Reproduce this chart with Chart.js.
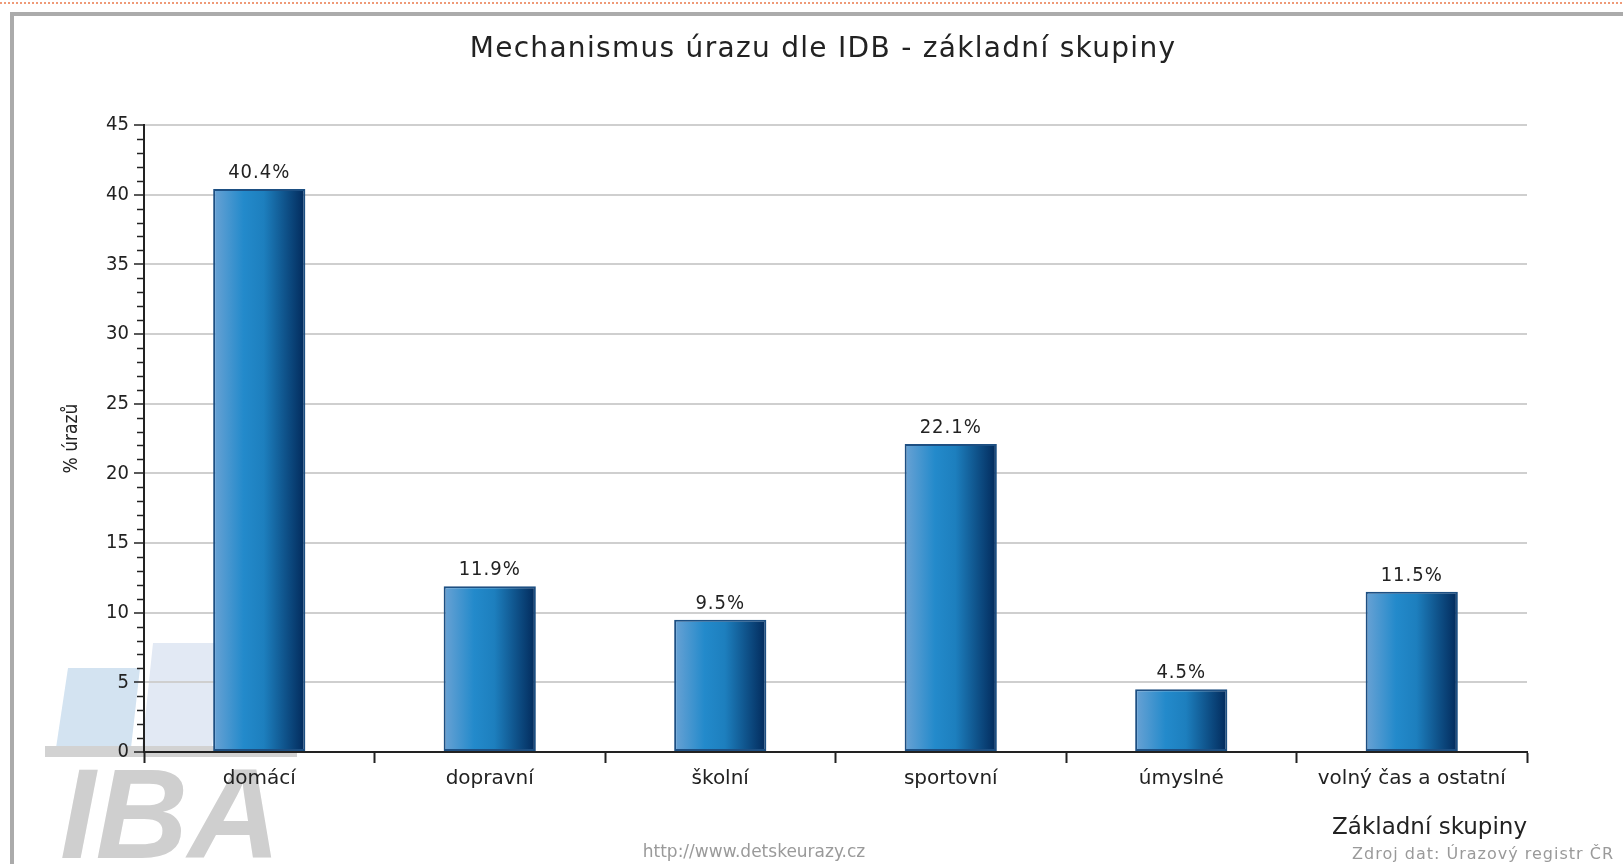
<!DOCTYPE html>
<html>
<head>
<meta charset="utf-8">
<script src="https://cdn.jsdelivr.net/npm/chart.js@4"></script>
<style>
  html, body { margin: 0; padding: 0; background: #fff; overflow: hidden; }
  #wrap { position: relative; width: 1623px; height: 864px; }
</style>
</head>
<body>
<div id="wrap"><canvas id="c" width="1623" height="864"></canvas></div>
<script>
const chartTitle = 'Mechanismus úrazu dle IDB - základní skupiny';
const categories = ['domácí', 'dopravní', 'školní', 'sportovní', 'úmyslné', 'volný čas a ostatní'];
const values = [40.4, 11.9, 9.5, 22.1, 4.5, 11.5];
const yMin = 0, yMax = 45, yStep = 5, yMinorStep = 1;
const yAxisTitle = '% úrazů';
const xAxisTitle = 'Základní skupiny';
const sourceText = 'Zdroj dat: Úrazový registr ČR';
const urlText = 'http://www.detskeurazy.cz';

const FONT = '"DejaVu Sans Condensed", "DejaVu Sans", sans-serif';
const FONT_W = '"DejaVu Sans", sans-serif';
const TXT = '#222';

const BAR_FRACTION = 0.4;

function barGradient(ctx) {
  const chart = ctx.chart;
  const xs = chart.scales.x;
  if (!chart.chartArea || !xs) return '#1f86c4';
  const cx = xs.getPixelForValue(ctx.dataIndex);
  const catW = (xs.right - xs.left) / categories.length;
  const w = catW * BAR_FRACTION;
  const g = chart.ctx.createLinearGradient(cx - w / 2, 0, cx + w / 2, 0);
  g.addColorStop(0, '#6aa2d4');
  g.addColorStop(0.33, '#238acb');
  g.addColorStop(0.55, '#1d7fbe');
  g.addColorStop(1, '#02295a');
  return g;
}

function spaced(c, px) {
  if ('letterSpacing' in c) c.letterSpacing = px + 'px';
}

const decorPlugin = {
  id: 'decor',
  beforeDraw(chart) {
    const c = chart.ctx;
    c.save();
    // orange dotted line at top
    c.strokeStyle = '#ef9a78';
    c.lineWidth = 2;
    c.setLineDash([2, 2]);
    c.beginPath(); c.moveTo(0, 3); c.lineTo(1623, 3); c.stroke();
    c.setLineDash([]);
    // gray frame
    c.strokeStyle = '#ababab';
    c.lineWidth = 4;
    c.strokeRect(12, 14, 1640, 900);
    // IBA logo watermark
    c.fillStyle = '#d3e3f1';
    c.beginPath();
    c.moveTo(68, 668); c.lineTo(140, 668); c.lineTo(131, 748); c.lineTo(56, 748); c.closePath(); c.fill();
    c.fillStyle = '#e2e9f4';
    c.beginPath();
    c.moveTo(153, 643); c.lineTo(222, 643); c.lineTo(212, 748); c.lineTo(142, 748); c.closePath(); c.fill();
    c.fillStyle = '#d2d2d2';
    c.fillRect(45, 746, 252, 11);
    c.fillStyle = '#cfcfcf';
    c.font = 'italic bold 128px "Liberation Sans", Arial, sans-serif';
    c.textAlign = 'left';
    c.textBaseline = 'alphabetic';
    c.fillText('IBA', 60, 858);
    c.restore();
  },
  afterDraw(chart) {
    const c = chart.ctx;
    const ys = chart.scales.y;
    const area = chart.chartArea;
    c.save();
    // minor ticks on y axis
    c.strokeStyle = '#222';
    c.lineWidth = 1.5;
    for (let v = yMin; v <= yMax; v += yMinorStep) {
      if (v % yStep === 0) continue;
      const y = Math.round(ys.getPixelForValue(v)) + 0.5;
      c.beginPath(); c.moveTo(area.left - 7, y); c.lineTo(area.left, y); c.stroke();
    }
    // title
    c.fillStyle = TXT;
    c.font = '28px ' + FONT_W;
    spaced(c, 1.3);
    c.textAlign = 'center';
    c.textBaseline = 'alphabetic';
    c.fillText(chartTitle, 823, 57);
    // value labels
    c.font = '20px ' + FONT;
    spaced(c, 1);
    const meta = chart.getDatasetMeta(0);
    meta.data.forEach((el, i) => {
      c.fillText(values[i].toFixed(1) + '%', el.x, el.y - 11);
    });
    // url and source
    c.fillStyle = '#9a9a9a';
    c.font = '17px ' + FONT_W;
    spaced(c, 0);
    c.fillText(urlText, 754, 857);
    c.textAlign = 'right';
    c.font = '16px ' + FONT_W;
    spaced(c, 1);
    c.fillText(sourceText, 1614, 859);
    c.restore();
  }
};

new Chart(document.getElementById('c'), {
  type: 'bar',
  data: {
    labels: categories,
    datasets: [{
      data: values,
      backgroundColor: barGradient,
      borderColor: '#1d4f82',
      borderWidth: 2,
      borderSkipped: false,
      barPercentage: BAR_FRACTION,
      categoryPercentage: 1.0
    }]
  },
  options: {
    responsive: false,
    animation: false,
    events: [],
    layout: { padding: { left: 57, right: 96, top: 125, bottom: 18 } },
    plugins: {
      legend: { display: false },
      title: { display: false },
      tooltip: { enabled: false }
    },
    scales: {
      x: {
        grid: {
          offset: true,
          drawOnChartArea: false,
          tickLength: 11,
          tickColor: '#222',
          tickWidth: 2
        },
        border: { color: '#222', width: 2 },
        ticks: { color: TXT, font: { family: FONT_W, size: 20 }, padding: 4, maxRotation: 0, autoSkip: false },
        title: {
          display: true,
          text: xAxisTitle,
          align: 'end',
          color: TXT,
          font: { family: FONT_W, size: 23 },
          padding: { top: 4, bottom: 4 }
        },
        afterFit(scale) { scale.height = 94; }
      },
      y: {
        min: yMin,
        max: yMax,
        ticks: { stepSize: yStep, color: TXT, font: { family: FONT, size: 20 }, padding: 5 },
        grid: {
          color: '#cfcfcf',
          lineWidth: 2,
          tickLength: 10,
          tickColor: '#222',
          tickWidth: 1.5
        },
        border: { color: '#222', width: 2 },
        title: {
          display: true,
          text: yAxisTitle,
          color: TXT,
          font: { family: FONT, size: 19 },
          padding: { top: 4, bottom: 4 }
        },
        afterFit(scale) { scale.width = 87; }
      }
    }
  },
  plugins: [decorPlugin]
});
</script>
</body>
</html>
